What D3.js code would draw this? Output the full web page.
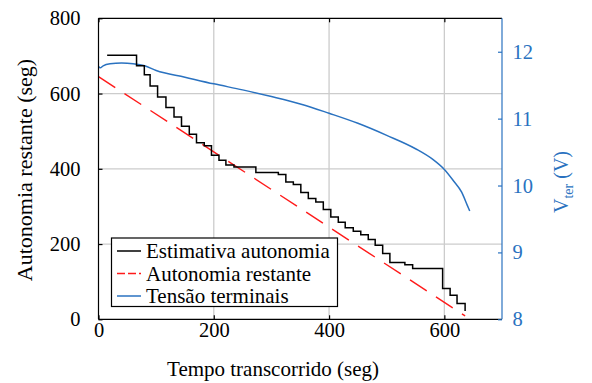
<!DOCTYPE html>
<html><head><meta charset="utf-8">
<script src="https://cdn.jsdelivr.net/npm/d3@7"></script>
<style>html,body{margin:0;padding:0;background:#fff;}svg{display:block;font-family:"Liberation Serif","Times New Roman",serif;}</style>
</head><body>
<svg id="c" width="592" height="383"></svg>
<script>
// Estimativa autonomia (step series)
const stepT = [15, 66, 79.5, 89.5, 102.5, 117, 131, 144, 157.5, 170, 183.5, 196, 209, 221, 235, 273, 312, 325, 338, 351, 364, 377, 390, 403, 416, 428, 442, 455, 468, 480, 493, 505.5, 531.5, 545, 597, 610, 622, 636];
const stepV = [702, 674, 650, 620, 591, 563, 538, 513, 492, 469, 461, 436, 423, 410, 405, 390, 385, 365, 358, 337, 321, 312, 292, 272, 258, 243, 234, 225, 212, 197, 175, 151, 145, 135, 82, 64, 42, 22];
// Autonomia restante
const redT = [0, 636];
const redV = [645, 9];
// Tensão terminais
const blueT = [0, 3, 8, 20, 40, 60, 80, 100, 150, 200, 250, 300, 350, 400, 450, 500, 550, 580, 600, 615, 630, 640, 644];
const blueV = [11.78, 11.76, 11.79, 11.82, 11.83, 11.82, 11.79, 11.72, 11.62, 11.52, 11.43, 11.33, 11.22, 11.08, 10.93, 10.75, 10.55, 10.39, 10.24, 10.08, 9.90, 9.70, 9.62];

const xTicks = [0, 200, 400, 600];
const yTicks = [0, 200, 400, 600, 800];
const y2Ticks = [8, 9, 10, 11, 12];
const legendLabels = ["Estimativa autonomia", "Autonomia restante", "Tensão terminais"];

const L = 98.5, T = 18.3, R = 502, B = 319.3;
const BLUE = "#2a72c0";
const svg = d3.select("#c");
const x = d3.scaleLinear().domain([0, 700]).range([L, R]);
const y = d3.scaleLinear().domain([0, 800]).range([B, T]);
const y2 = d3.scaleLinear().domain([8, 12.5]).range([B, T]);
const FT = 20.5;

// grid
const g = svg.append("g");
g.selectAll("line.vx").data(xTicks.filter(d => d > 0)).join("line")
  .attr("x1", d => x(d)).attr("x2", d => x(d)).attr("y1", T).attr("y2", B)
  .attr("stroke", "#cccccc").attr("stroke-width", 1.3);
g.selectAll("line.hy").data(yTicks.filter(d => d > 0 && d < 800)).join("line")
  .attr("x1", L).attr("x2", R).attr("y1", d => y(d)).attr("y2", d => y(d))
  .attr("stroke", "#cccccc").attr("stroke-width", 1.3);

// data
const blueLine = d3.line().x(d => x(d[0])).y(d => y2(d[1])).curve(d3.curveMonotoneX);
svg.append("path").datum(blueT.map((t, i) => [t, blueV[i]])).attr("d", blueLine)
  .attr("fill", "none").attr("stroke", BLUE).attr("stroke-width", 1.5);
const redLine = d3.line().x(d => x(d[0])).y(d => y(d[1]));
svg.append("path").datum(redT.map((t, i) => [t, redV[i]])).attr("d", redLine)
  .attr("fill", "none").attr("stroke", "#ff1a1a").attr("stroke-width", 1.4).attr("stroke-dasharray", "20,11");
const stepLine = d3.line().x(d => x(d[0])).y(d => y(d[1])).curve(d3.curveStepAfter);
svg.append("path").datum(stepT.map((t, i) => [t, stepV[i]])).attr("d", stepLine)
  .attr("fill", "none").attr("stroke", "#000").attr("stroke-width", 1.5);

// axes
const ax = svg.append("g");
const xAxis = d3.axisBottom(x).tickValues(xTicks).tickSize(-4).tickPadding(3).tickFormat(d3.format("d"));
const xg = ax.append("g").attr("transform", `translate(0,${B})`).call(xAxis);
const xTop = d3.axisTop(x).tickValues(xTicks).tickSize(-4).tickFormat("");
const xtg = ax.append("g").attr("transform", `translate(0,${T})`).call(xTop);
const yAxis = d3.axisLeft(y).tickValues(yTicks).tickSize(-4).tickPadding(18).tickFormat(d3.format("d"));
const yg = ax.append("g").attr("transform", `translate(${L},0)`).call(yAxis);
const y2Axis = d3.axisRight(y2).tickValues(y2Ticks).tickSize(-4).tickPadding(10.5).tickFormat(d3.format("d"));
const y2g = ax.append("g").attr("transform", `translate(${R},0)`).call(y2Axis);
[xg, xtg, yg, y2g].forEach(s => s.attr("font-size", FT).attr("font-family", "Liberation Serif"));
[xg, xtg, yg].forEach(s => { s.selectAll("path,line").attr("stroke", "#000").attr("stroke-width", 1.2); s.selectAll("text").attr("fill", "#000"); });
y2g.selectAll("path,line").attr("stroke", BLUE).attr("stroke-width", 1.2);
y2g.selectAll("text").attr("fill", BLUE);
xg.select(".domain").attr("d", `M${L},0H${R}`);
xtg.select(".domain").attr("d", `M${L},0H${R}`);
yg.select(".domain").attr("d", `M0,${B}V${T}`);
y2g.select(".domain").attr("d", `M0,${B}V${T}`);

// titles
svg.append("text").attr("x", 273).attr("y", 376).attr("text-anchor", "middle")
  .attr("font-size", 21).attr("fill", "#000").text("Tempo transcorrido (seg)");
svg.append("text").attr("transform", `translate(32,170) rotate(-90)`).attr("text-anchor", "middle")
  .attr("font-size", 22).attr("fill", "#000").text("Autonomia restante (seg)");
const t2 = svg.append("text").attr("transform", `translate(568,182) rotate(-90)`).attr("text-anchor", "middle")
  .attr("font-size", 20).attr("fill", BLUE);
t2.append("tspan").text("V");
t2.append("tspan").attr("font-size", 14).attr("dy", 5).text("ter");
t2.append("tspan").attr("dy", -5).text(" (V)");

// legend
const lg = svg.append("g");
lg.append("rect").attr("x", 111.5).attr("y", 238).attr("width", 226).attr("height", 68.5)
  .attr("fill", "#fff").attr("stroke", "#000").attr("stroke-width", 1.2);
const styles = [
  {c: "#000", w: 1.5, da: null},
  {c: "#ff1a1a", w: 1.4, da: "8,3"},
  {c: BLUE, w: 1.5, da: null}
];
legendLabels.forEach((lab, i) => {
  const cy = 251 + i * 22.5;
  lg.append("line").attr("x1", 117).attr("x2", 141).attr("y1", cy).attr("y2", cy)
    .attr("stroke", styles[i].c).attr("stroke-width", styles[i].w).attr("stroke-dasharray", styles[i].da);
  lg.append("text").attr("x", 146).attr("y", cy + 7).attr("font-size", 21).attr("fill", "#000").text(lab);
});
</script>
</body></html>
